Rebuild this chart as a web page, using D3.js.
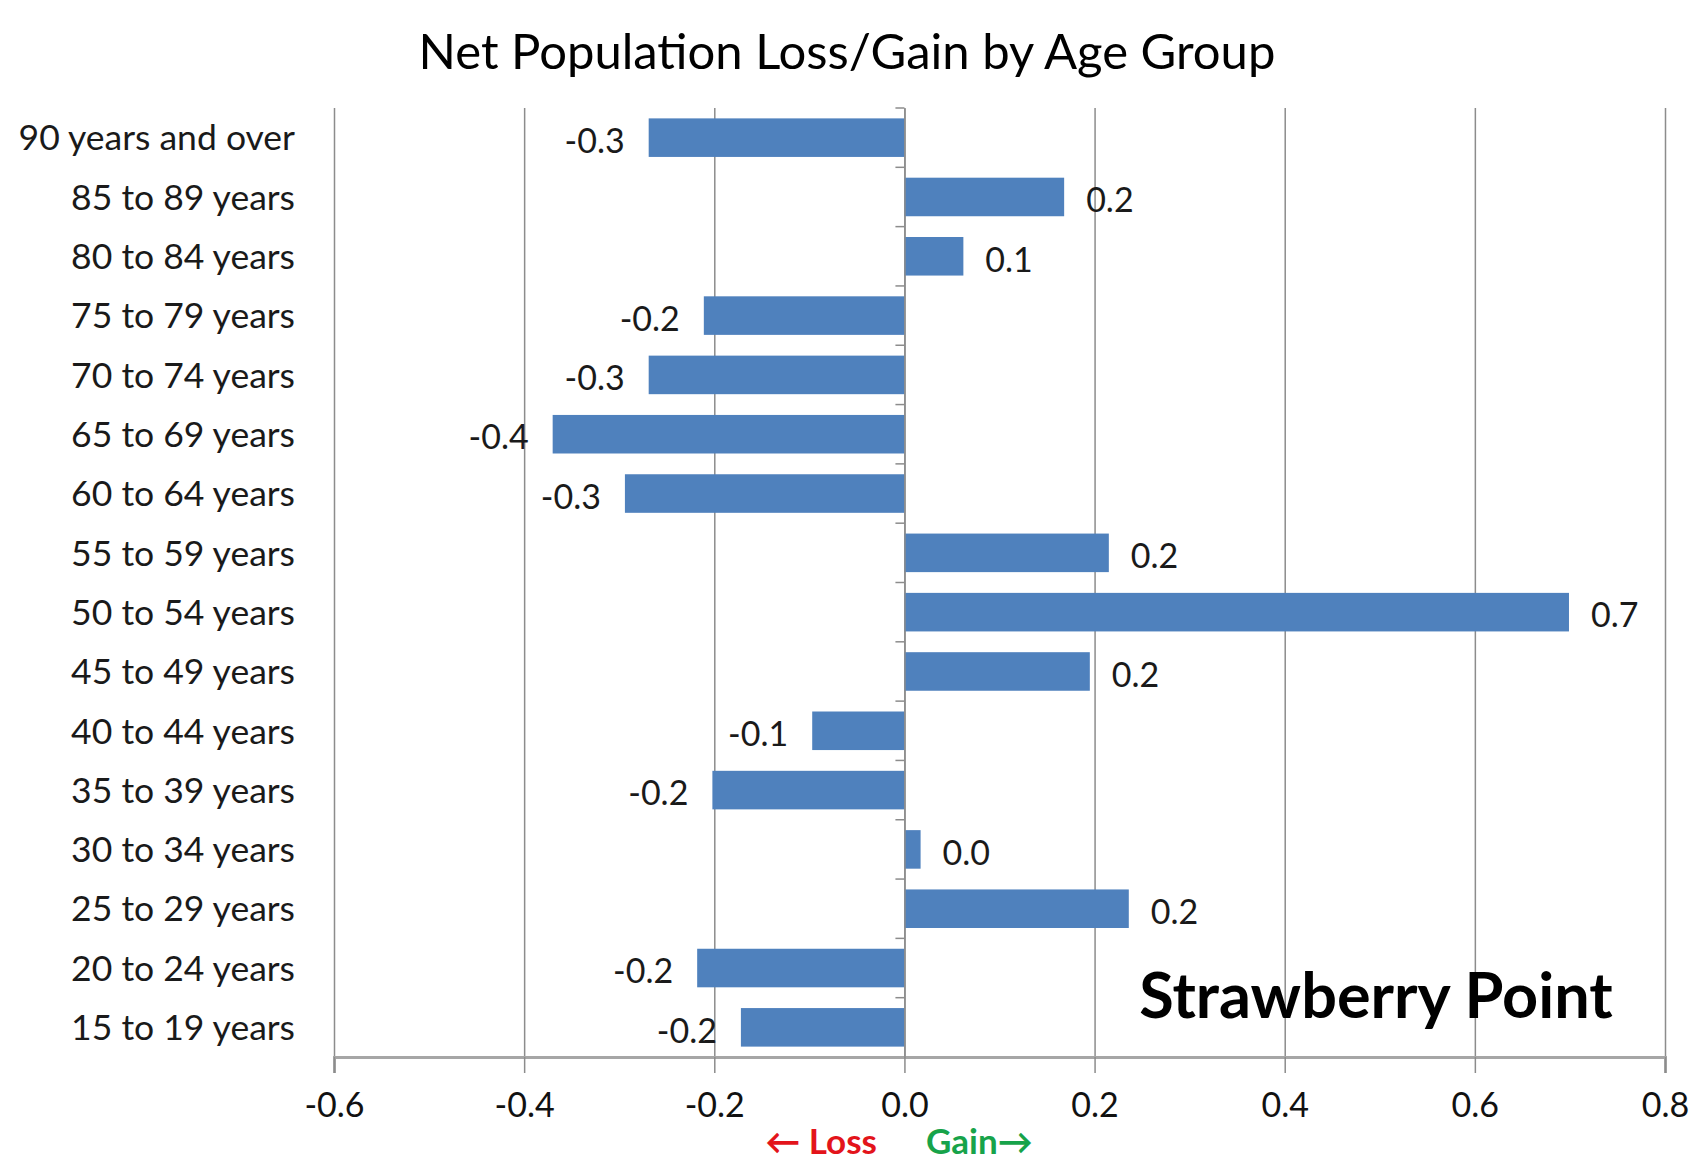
<!DOCTYPE html>
<html>
<head>
<meta charset="utf-8">
<script src="https://cdn.jsdelivr.net/npm/d3@7"></script>
<style>
  html, body { margin: 0; padding: 0; background: #fff; }
  svg { display: block; font-family: Lato, "Open Sans", sans-serif; }
</style>
</head>
<body>
<svg id="chart" width="1692" height="1167"></svg>
<script>
// ---- data ----
const categories = [
  "90 years and over", "85 to 89 years", "80 to 84 years", "75 to 79 years",
  "70 to 74 years", "65 to 69 years", "60 to 64 years", "55 to 59 years",
  "50 to 54 years", "45 to 49 years", "40 to 44 years", "35 to 39 years",
  "30 to 34 years", "25 to 29 years", "20 to 24 years", "15 to 19 years"
];
const values = [
  -0.269, 0.168, 0.062, -0.211,
  -0.269, -0.370, -0.294, 0.215,
  0.699, 0.195, -0.097, -0.202,
  0.017, 0.236, -0.218, -0.172
];
const xTicks = [-0.6, -0.4, -0.2, 0.0, 0.2, 0.4, 0.6, 0.8];
const titleText = "Net Population Loss/Gain by Age Group";
const placeText = "Strawberry Point";
const lossText = "\u2190 Loss";
const gainText = "Gain\u2192";

// ---- layout ----
const svg = d3.select("#chart");
const plot = { left: 334, right: 1665, top: 108, bottom: 1057 };

const x = d3.scaleLinear().domain([-0.6, 0.8]).range([plot.left, plot.right]);
const y = d3.scaleBand().domain(categories)
  .range([plot.top, plot.bottom]).paddingInner(0.35).paddingOuter(0.175);

const fmt = d => d.toFixed(1);

// gridlines
const gridAxis = d3.axisBottom(x).tickValues(xTicks)
  .tickSize(-(plot.bottom - plot.top)).tickFormat("");
svg.append("g").attr("transform", `translate(0,${plot.bottom})`).call(gridAxis)
  .call(g => g.select(".domain").remove())
  .call(g => g.selectAll("line").attr("stroke", "#8c8c8c").attr("stroke-width", 1.5));

// bottom axis
const xAxis = d3.axisBottom(x).tickValues(xTicks).tickSize(16).tickPadding(20).tickFormat(fmt);
svg.append("g").attr("transform", `translate(0,${plot.bottom})`).call(xAxis)
  .call(g => g.select(".domain").attr("stroke", "#a6a6a6").attr("stroke-width", 3))
  .call(g => g.selectAll("line").attr("stroke", "#8c8c8c").attr("stroke-width", 1.5))
  .call(g => g.selectAll("text").attr("fill", "#111").attr("font-size", 34)
    .attr("font-family", "Lato, sans-serif"));

// bars
svg.append("g").selectAll("rect").data(categories).join("rect")
  .attr("x", (c, i) => x(Math.min(0, values[i])))
  .attr("width", (c, i) => Math.abs(x(values[i]) - x(0)))
  .attr("y", c => y(c))
  .attr("height", y.bandwidth())
  .attr("fill", "#4f81bd");

// vertical category axis at zero with small ticks at band boundaries
const yAxis = d3.axisLeft(y).tickSize(0).tickFormat("");
svg.append("g").attr("transform", `translate(${x(0)},0)`).call(yAxis)
  .call(g => g.select(".domain").attr("stroke", "#8c8c8c").attr("stroke-width", 1.5));
const boundaries = categories.map(c => y(c) - y.step() * y.paddingInner() / 2);
svg.append("g").selectAll("line").data(boundaries).join("line")
  .attr("x1", x(0) - 9).attr("x2", x(0))
  .attr("y1", d => d).attr("y2", d => d)
  .attr("stroke", "#8c8c8c").attr("stroke-width", 1.5);

// category labels
svg.append("g").selectAll("text").data(categories).join("text")
  .attr("x", 295)
  .attr("y", c => y(c) + y.bandwidth() / 2)
  .attr("dy", "0.36em")
  .attr("text-anchor", "end")
  .attr("font-size", 35.5)
  .attr("fill", "#1a1a1a")
  .text(c => c);

// data labels
svg.append("g").selectAll("text").data(categories).join("text")
  .attr("x", (c, i) => values[i] < 0 ? x(values[i]) - 24 : x(values[i]) + 22)
  .attr("y", c => y(c) + y.bandwidth() / 2 + 3)
  .attr("dy", "0.36em")
  .attr("text-anchor", (c, i) => values[i] < 0 ? "end" : "start")
  .attr("font-size", 34)
  .attr("fill", "#1a1a1a")
  .text((c, i) => fmt(values[i]));

// title
svg.append("text")
  .attr("x", 847).attr("y", 51).attr("dy", "0.36em")
  .attr("text-anchor", "middle").attr("font-size", 49).attr("fill", "#000")
  .text(titleText);

// place annotation
svg.append("text")
  .attr("x", 1376).attr("y", 995).attr("dy", "0.36em")
  .attr("text-anchor", "middle").attr("font-size", 63).attr("font-weight", "bold")
  .attr("fill", "#000")
  .text(placeText);

// loss / gain
svg.append("text")
  .attr("x", 877).attr("y", 1141).attr("dy", "0.36em")
  .attr("text-anchor", "end").attr("font-size", 35).attr("font-weight", "bold")
  .attr("fill", "#e3141b").text(lossText);
svg.append("text")
  .attr("x", 926).attr("y", 1141).attr("dy", "0.36em")
  .attr("text-anchor", "start").attr("font-size", 35).attr("font-weight", "bold")
  .attr("fill", "#17a34a").text(gainText);
</script>
</body>
</html>
